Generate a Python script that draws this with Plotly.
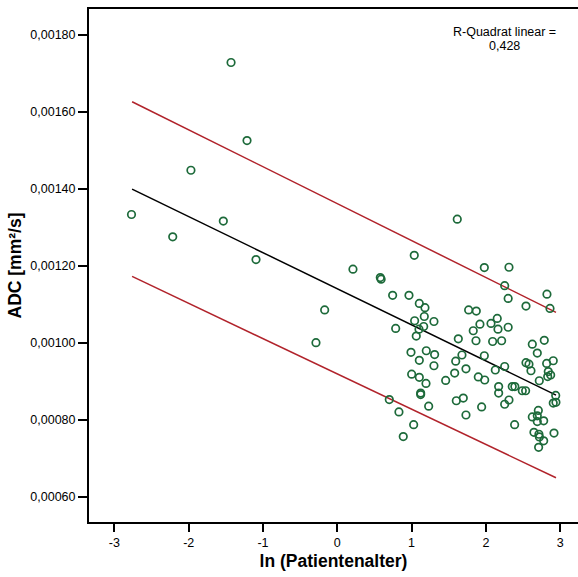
import numpy as np
import plotly.graph_objects as go

# ln(patient age) and ADC [mm²/s] per patient
ln_age = [
    -2.770, -2.215, -1.970, -1.534, -1.430, -1.215, -1.094, -0.287, -0.170,
    0.211, 0.579, 0.590, 1.036, 1.615, 1.979, 2.311, 2.253,
    0.745, 0.965, 1.104, 1.180, 1.768, 1.871, 2.300, 2.540, 2.822, 2.863,
    1.171, 1.041, 1.301, 0.786, 1.163, 1.100, 1.063, 1.920, 1.830, 2.069,
    2.153, 2.163, 2.300, 1.629, 1.867, 2.091, 2.212, 2.625, 2.786, 2.692,
    0.992, 1.198, 1.310, 1.678, 1.979, 1.104, 1.594, 1.301, 1.732, 2.127,
    2.253, 2.540, 2.580, 2.607, 2.818, 2.907, 2.840, 2.872, 2.832, 1.001,
    1.104, 1.194, 1.459, 1.580, 1.898, 1.984, 2.719, 2.172, 2.355, 2.390,
    2.490, 2.535, 2.172, 1.122, 1.122, 2.940, 2.907, 2.943, 2.311, 2.253,
    1.602, 1.696, 1.230, 1.943, 0.700, 0.830, 1.028, 0.888, 1.732, 2.387,
    2.625, 2.706, 2.692, 2.692, 2.778, 2.647, 2.714, 2.720, 2.778, 2.710,
    2.917,
]
adc = [
    0.001333, 0.001275, 0.001448, 0.001316, 0.001728, 0.001525, 0.001216, 0.001000, 0.001085,
    0.001191, 0.001169, 0.001165, 0.001227, 0.001321, 0.001195, 0.001196, 0.001148,
    0.001123, 0.001123, 0.001102, 0.001091, 0.001085, 0.001082, 0.001115, 0.001095, 0.001126, 0.001089,
    0.001068, 0.001057, 0.001055, 0.001037, 0.001042, 0.001035, 0.001017, 0.001048, 0.001031, 0.001050,
    0.001063, 0.001035, 0.001040, 0.001010, 0.001005, 0.001003, 0.001005, 0.000996, 0.001006, 0.000973,
    0.000975, 0.000979, 0.000969, 0.000968, 0.000966, 0.000954, 0.000952, 0.000940, 0.000932, 0.000929,
    0.000938, 0.000948, 0.000944, 0.000927, 0.000946, 0.000953, 0.000925, 0.000916, 0.000912, 0.000918,
    0.000910, 0.000894, 0.000902, 0.000921, 0.000911, 0.000903, 0.000901, 0.000886, 0.000886, 0.000886,
    0.000875, 0.000875, 0.000869, 0.000869, 0.000865, 0.000863, 0.000843, 0.000845, 0.000851, 0.000840,
    0.000849, 0.000856, 0.000835, 0.000833, 0.000852, 0.000820, 0.000787, 0.000756, 0.000812, 0.000787,
    0.000807, 0.000824, 0.000810, 0.000795, 0.000797, 0.000767, 0.000762, 0.000755, 0.000745, 0.000728,
    0.000765,
]

# Linear fit and the individual prediction band (half-width at both ends)
fit_x_range = [-2.762, 2.944]
fit_intercept = 0.001140
fit_slope = -0.0000938
band_half_width = [0.000227, 0.000215]
r_squared_text = "0,428"

x_ticks = [-3, -2, -1, 0, 1, 2, 3]
x_tick_labels = ["-3", "-2", "-1", "0", "1", "2", "3"]
y_ticks = [0.0006, 0.0008, 0.0010, 0.0012, 0.0014, 0.0016, 0.0018]
y_tick_labels = ["0,00060", "0,00080", "0,00100", "0,00120", "0,00140", "0,00160", "0,00180"]

FONT = "Liberation Sans, Arial, sans-serif"
GREEN = "#1d6a3a"
RED = "#b1232b"

fx = np.array(fit_x_range)
fy = fit_intercept + fit_slope * fx
hw = np.array(band_half_width)

fig = go.Figure()
fig.add_trace(go.Scatter(x=fx, y=fy + hw, mode="lines",
                         line=dict(color=RED, width=1.5), hoverinfo="skip"))
fig.add_trace(go.Scatter(x=fx, y=fy - hw, mode="lines",
                         line=dict(color=RED, width=1.5), hoverinfo="skip"))
fig.add_trace(go.Scatter(x=fx, y=fy, mode="lines",
                         line=dict(color="black", width=1.5), hoverinfo="skip"))
fig.add_trace(go.Scatter(
    x=ln_age, y=adc, mode="markers",
    marker=dict(symbol="circle-open", size=7.5, color=GREEN,
                line=dict(width=1.7, color=GREEN)),
))

# R² note, two centred lines in the upper right corner
fig.add_annotation(text="R-Quadrat linear =", xref="paper", yref="paper",
                   x=0.849, y=0.955, xanchor="center", yanchor="middle",
                   showarrow=False,
                   font=dict(family=FONT, size=12.5, color="black"))
fig.add_annotation(text=r_squared_text, xref="paper", yref="paper",
                   x=0.849, y=0.928, xanchor="center", yanchor="middle",
                   showarrow=False,
                   font=dict(family=FONT, size=12.5, color="black"))

fig.update_layout(
    width=578, height=577,
    margin=dict(l=89, r=0, t=9, b=55),
    paper_bgcolor="white", plot_bgcolor="white",
    showlegend=False,
    font=dict(family=FONT, color="black"),
    xaxis=dict(
        range=[-3.342, 3.24],
        showline=True, linewidth=2, linecolor="black", mirror=True,
        ticks="outside", ticklen=8, tickwidth=1.5, tickcolor="black",
        tickvals=x_ticks, ticktext=x_tick_labels,
        tickfont=dict(family=FONT, size=12.5),
        showgrid=False, zeroline=False,
        title=dict(text="<b>ln (Patientenalter)</b>", standoff=6,
                   font=dict(family=FONT, size=17.5)),
    ),
    yaxis=dict(
        range=[0.000534, 0.001867],
        showline=True, linewidth=2, linecolor="black", mirror=False,
        ticks="outside", ticklen=9, tickwidth=1.5, tickcolor="black",
        tickvals=y_ticks, ticktext=y_tick_labels,
        tickfont=dict(family=FONT, size=12.5),
        showgrid=False, zeroline=False,
        title=dict(text="<b>ADC [mm²/s]</b>", standoff=4,
                   font=dict(family=FONT, size=17.5)),
    ),
)

fig.write_html("out.html")
